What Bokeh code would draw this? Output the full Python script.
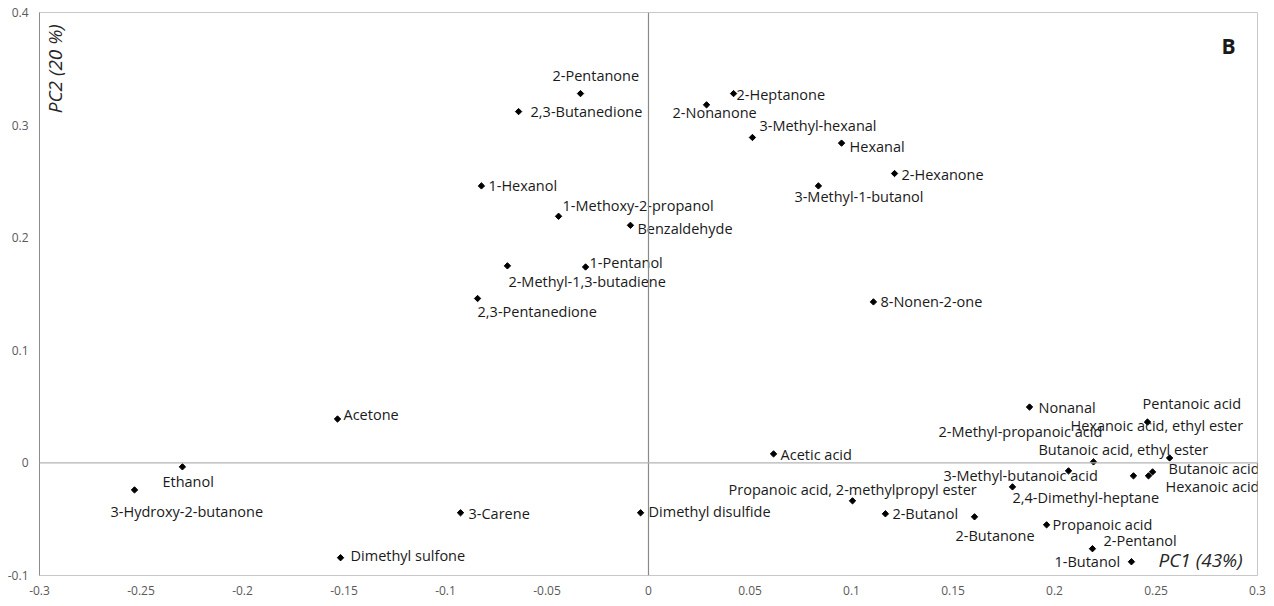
from bokeh.plotting import figure
from bokeh.models import Range1d, FixedTicker, CustomJSTickFormatter, Span, ColumnDataSource, Label
from bokeh.core.properties import value
from bokeh.embed import file_html
from bokeh.resources import INLINE

# ---- data (PCA loadings) ----
compounds = [
    "2-Pentanone", "2,3-Butanedione", "2-Heptanone", "2-Nonanone", "3-Methyl-hexanal",
    "Hexanal", "2-Hexanone", "3-Methyl-1-butanol", "1-Hexanol", "1-Methoxy-2-propanol",
    "Benzaldehyde", "1-Pentanol", "2-Methyl-1,3-butadiene", "2,3-Pentanedione", "8-Nonen-2-one",
    "Acetone", "Ethanol", "3-Hydroxy-2-butanone", "3-Carene", "Dimethyl sulfone",
    "Dimethyl disulfide", "Acetic acid", "Propanoic acid, 2-methylpropyl ester", "2-Butanol", "2-Butanone",
    "Nonanal", "Pentanoic acid", "Hexanoic acid, ethyl ester", "2-Methyl-propanoic acid", "Butanoic acid, ethyl ester",
    "3-Methyl-butanoic acid", "Butanoic acid", "Hexanoic acid", "2,4-Dimethyl-heptane", "Propanoic acid",
    "2-Pentanol", "1-Butanol",
]
pc1 = [
    -0.0335, -0.0640, 0.0419, 0.0286, 0.0512,
    0.0951, 0.1212, 0.0837, -0.0823, -0.0443,
    -0.0089, -0.0310, -0.0695, -0.0842, 0.1108,
    -0.1532, -0.2296, -0.2532, -0.0926, -0.1517,
    -0.0039, 0.0616, 0.1005, 0.1167, 0.1606,
    0.1877, 0.2567, 0.2458, 0.2069, 0.2192,
    0.2389, 0.2483, 0.2463, 0.1793, 0.1961,
    0.2187, 0.2379,
]
pc2 = [
    0.328, 0.312, 0.328, 0.318, 0.289,
    0.284, 0.257, 0.246, 0.246, 0.219,
    0.211, 0.174, 0.175, 0.146, 0.143,
    0.039, -0.0035, -0.024, -0.0443, -0.0842,
    -0.0443, 0.008, -0.0337, -0.0452, -0.0479,
    0.0496, 0.0044, 0.0363, -0.0071, 0.0009,
    -0.0115, -0.0080, -0.0115, -0.0213, -0.0550,
    -0.0762, -0.0878,
]
x_ticks = [-0.3, -0.25, -0.2, -0.15, -0.1, -0.05, 0, 0.05, 0.1, 0.15, 0.2, 0.25, 0.3]
y_ticks = [-0.1, 0, 0.1, 0.2, 0.3, 0.4]

# ---- label layout (screen-pixel offsets from each marker) ----
label_dx = [
    -28, 12, 3, -34, 7,
    8, 7, -24, 7, 4,
    7, 4, 1, 0, 7,
    6, -20, -24, 8, 10,
    8, 7, -124, 7, -19,
    9, -27, -77, -130, -55,
    -190, 16, 17, 0, 6,
    11, -77,
]
label_dy = [
    -18, 0, 1, 8, -12,
    3, 1, 11, 0, -11,
    3, -4, 16, 13, 0,
    -4, 15, 22, 1, -2,
    -1, 1, -11, 0, 19,
    0, -54, 3, -39, -12,
    0, -3, 11, 11, 0,
    -8, 0,
]

src = ColumnDataSource(dict(x=pc1, y=pc2, name=compounds, dx=label_dx, dy=label_dy))

FONT = "Open Sans"

p = figure(width=1266, height=602, output_backend="svg", toolbar_location=None,
           x_range=Range1d(-0.3, 0.3), y_range=Range1d(-0.1, 0.4),
           min_border_left=39, min_border_right=9, min_border_top=12, min_border_bottom=27)
p.background_fill_color = "white"
p.border_fill_color = "white"
p.outline_line_color = "#c8c8c8"
p.outline_line_width = 1
p.grid.visible = False

fmt = CustomJSTickFormatter(code="return (Math.round(tick*100)/100).toString();")
p.xaxis.ticker = FixedTicker(ticks=x_ticks)
p.yaxis.ticker = FixedTicker(ticks=y_ticks)
for ax in (p.xaxis[0], p.yaxis[0]):
    ax.formatter = fmt
    ax.major_tick_line_color = None
    ax.minor_tick_line_color = None
    ax.major_tick_out = 0
    ax.major_tick_in = 0
    ax.minor_tick_out = 0
    ax.minor_tick_in = 0
    ax.major_label_text_font = FONT
    ax.major_label_text_font_size = "12px"
    ax.major_label_text_color = "#595959"
p.xaxis.axis_line_color = "#c8c8c8"
p.yaxis.axis_line_color = "#8c8c8c"
p.xaxis.major_label_standoff = 10
p.yaxis.major_label_standoff = 11

p.add_layout(Span(location=0, dimension="height", line_color="#8a8a8a", line_width=1.2))
p.add_layout(Span(location=0, dimension="width", line_color="#b4b4b4", line_width=1.2))

p.scatter("x", "y", source=src, marker="square", angle=0.785398, size=4.5,
          fill_color="black", line_color="black")
p.text("x", "y", text="name", source=src, x_offset="dx", y_offset="dy",
       text_font=value(FONT), text_font_size="14.5px", text_color="#1a1a1a",
       text_align="left", text_baseline="middle")

p.add_layout(Label(x=0.2512, y=-0.086, text="PC1 (43%)", text_font=FONT, text_font_size="19px",
                   text_font_style="italic", text_color="#262626", text_baseline="middle"))
p.add_layout(Label(x=-0.2926, y=0.350, text="PC2 (20 %)", text_font=FONT, text_font_size="19px",
                   text_font_style="italic", text_color="#262626", angle=1.5708,
                   text_align="center", text_baseline="middle"))
p.add_layout(Label(x=0.2857, y=0.3706, text="B", text_font=FONT, text_font_size="21px",
                   text_font_style="bold", text_color="#1a1a1a",
                   text_align="center", text_baseline="middle"))

open("out.html", "w").write(file_html(p, INLINE))
